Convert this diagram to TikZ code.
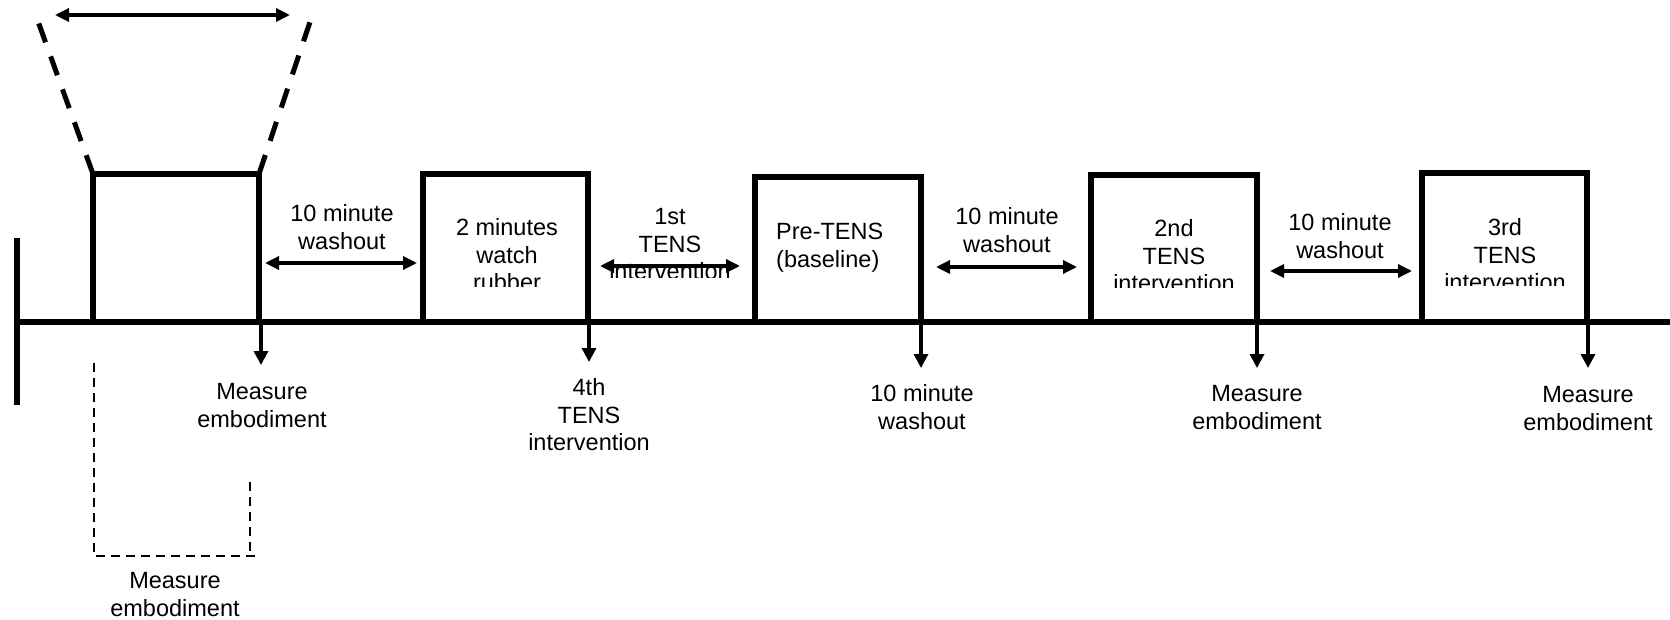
\documentclass[tikz,border=0pt]{standalone}
\usepackage{fontspec}
\setmainfont{Liberation Sans}
\usetikzlibrary{arrows.meta}
\begin{document}
\begin{tikzpicture}[x=1pt,y=-1pt,
  thick line/.style={line width=5.5pt},
  stagebox/.style={line width=5.5pt,line join=miter},
  arr/.style={line width=3.3pt,-{Triangle[length=14pt,width=14pt]}},
  darr/.style={line width=3.3pt,{Triangle[length=14pt,width=13pt]}-{Triangle[length=14pt,width=13pt]}},
  bigdash/.style={line width=5pt,dash pattern=on 20pt off 15pt},
  smalldash/.style={line width=2.3pt,dash pattern=on 9pt off 6pt},
  lbl/.style={font=\fontsize{23.5}{27.8}\selectfont,align=center,inner sep=0pt,anchor=north}]
\useasboundingbox (0,0) rectangle (1670,620);
% timeline and start bar
\coordinate (tl0) at (17,322);
\coordinate (tl1) at (1670,322);
\draw[thick line] (tl0) -- (tl1);
\coordinate (bar0) at (17,238);
\coordinate (bar1) at (17,405);
\draw[line width=6.7pt] (bar0) -- (bar1);
% boxes
\draw[stagebox] (93,322) -- (93,174) -- (259,174) -- (259,322);
\draw[stagebox] (423,322) -- (423,174) -- (588,174) -- (588,322);
\draw[stagebox] (755,322) -- (755,177) -- (921,177) -- (921,322);
\draw[stagebox] (1091,322) -- (1091,175) -- (1257,175) -- (1257,322);
\draw[stagebox] (1422,322) -- (1422,173) -- (1587,173) -- (1587,322);
% zoom trapezoid
\coordinate (z1) at (93,174);
\coordinate (z2) at (259,174);
\coordinate (z1t) at (35,13);
\coordinate (z2t) at (313,13);
\draw[bigdash] (z1) -- (z1t);
\draw[bigdash] (z2) -- (z2t);
\coordinate (ta) at (55,15);
\coordinate (tb) at (290,15);
\draw[darr] (ta) -- (tb);
% small dashed bracket
\draw[smalldash] (94,363) -- (94,556) -- (256,556);
\draw[smalldash] (250,482) -- (250,556);
% texts inside boxes (clipped)
\begin{scope}
\clip (426,180) rectangle (585,287);
\node[lbl] (t2) at (507,218) {2 minutes\\watch\\rubber};
\end{scope}
\begin{scope}
\clip (591,180) rectangle (752,278);
\node[lbl] (t1st) at (670,208) {1st\\TENS\\intervention};
\end{scope}
\node[lbl,align=left,anchor=north west] (t3) at (776,223) {Pre-TENS\\(baseline)};
\begin{scope}
\clip (1094,180) rectangle (1254,288);
\node[lbl] (t4) at (1174,219) {2nd\\TENS\\intervention};
\end{scope}
\begin{scope}
\clip (1425,180) rectangle (1584,286);
\node[lbl] (t5) at (1505,218) {3rd\\TENS\\intervention};
\end{scope}
% washout labels above
\node[lbl] (w1) at (342,204) {10 minute\\washout};
\node[lbl] (w2) at (1007,207) {10 minute\\washout};
\node[lbl] (w3) at (1340,213) {10 minute\\washout};
% horizontal arrows
\coordinate (h1a) at (265,263); \coordinate (h1b) at (417,263);
\coordinate (h2a) at (600,266); \coordinate (h2b) at (740,266);
\coordinate (h3a) at (936,267); \coordinate (h3b) at (1077,267);
\coordinate (h4a) at (1270,271); \coordinate (h4b) at (1412,271);
\draw[darr] (h1a) -- (h1b);
\draw[darr] (h2a) -- (h2b);
\draw[darr] (h3a) -- (h3b);
\draw[darr] (h4a) -- (h4b);
% down arrows
\coordinate (d1a) at (261,320); \coordinate (d1b) at (261,365);
\coordinate (d2a) at (589,320); \coordinate (d2b) at (589,362);
\coordinate (d3a) at (921,320); \coordinate (d3b) at (921,368);
\coordinate (d4a) at (1257,320); \coordinate (d4b) at (1257,368);
\coordinate (d5a) at (1588,320); \coordinate (d5b) at (1588,368);
\draw[arr] (d1a) -- (d1b);
\draw[arr] (d2a) -- (d2b);
\draw[arr] (d3a) -- (d3b);
\draw[arr] (d4a) -- (d4b);
\draw[arr] (d5a) -- (d5b);
% labels below
\node[lbl] (m1) at (262,383) {Measure\\embodiment};
\node[lbl] (m2) at (589,378) {4th\\TENS\\intervention};
\node[lbl] (m3) at (922,384) {10 minute\\washout};
\node[lbl] (m4) at (1257,385) {Measure\\embodiment};
\node[lbl] (m5) at (1588,386) {Measure\\embodiment};
\node[lbl] (m0) at (175,572) {Measure\\embodiment};
\end{tikzpicture}
\end{document}
